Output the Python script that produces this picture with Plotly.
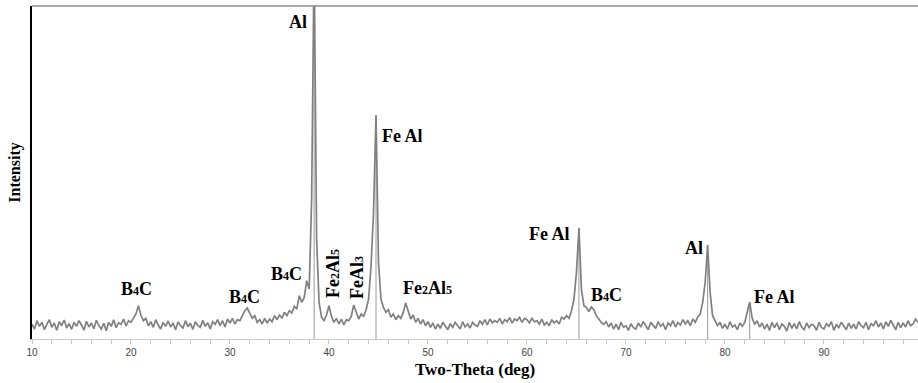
import numpy as np
import plotly.graph_objects as go

# ---- data: 2-theta grid (0.25 deg steps) and intensities
two_theta = np.round(np.arange(10.0, 99.5 + 0.001, 0.25), 2)
intensity = [
    45, 30, 55, 38,   50, 28, 44, 58,   35, 48, 26, 52,   40, 57, 33, 46,   # 10-13
    29, 50, 38, 55,   42, 27, 53, 36,   48, 31, 56, 40,   30, 47, 25, 50,   # 14-17
    38, 58, 34, 49,   44, 60, 39, 55,   50, 62, 75, 100,  72, 55, 62, 40,   # 18-21
    52, 35, 58, 42,   30, 50, 38, 54,   36, 48, 28, 51,   40, 33, 55, 37,   # 22-25
    47, 29, 52, 41,   35, 56, 38, 49,   30, 52, 44, 58,   40, 55, 36, 60,   # 26-29
    48, 62, 45, 58,   55, 70, 85, 93,   75, 62, 70, 50,   58, 45, 62, 48,   # 30-33
    60, 52, 70, 58,   72, 62, 80, 70,   85, 78, 98, 90,   130, 110, 125, 175,  # 34-37
    150, 420, 1150, 300,  110, 65, 55, 72,  100, 68, 50, 62,  45, 60, 42, 58,  # 38-41
    55, 68, 102, 78,  60, 75, 68, 88,  120, 220, 380, 672,  230, 120, 95, 80,  # 42-45
    88, 65, 75, 58,   70, 62, 80, 108,  85, 60, 72, 50,   62, 45, 58, 40,   # 46-49
    52, 35, 48, 30,   45, 32, 50, 38,   28, 46, 35, 50,   40, 30, 52, 36,   # 50-53
    45, 33, 50, 42,   38, 55, 44, 58,   42, 60, 48, 55,   50, 62, 45, 58,   # 54-57
    52, 64, 48, 60,   55, 65, 50, 62,   58, 48, 62, 52,   55, 45, 60, 42,   # 58-61
    50, 40, 58, 48,   55, 45, 65, 60,   70, 62, 85, 120,  200, 333, 150, 100,  # 62-65
    95, 82, 96, 88,   70, 58, 50, 44,   52, 36, 48, 30,   45, 28, 50, 35,   # 66-69
    40, 26, 46, 34,   30, 48, 36, 52,   38, 28, 50, 40,   32, 52, 38, 46,   # 70-73
    28, 48, 40, 55,   36, 50, 42, 58,   45, 55, 40, 60,   50, 66, 75, 110,  # 74-77
    170, 282, 140, 70,  55, 40, 50, 32,  45, 30, 52, 36,  42, 28, 48, 38,  # 78-81
    50, 80, 111, 62,  45, 55, 36, 48,   30, 45, 26, 50,   34, 48, 28, 45,   # 82-85
    38, 24, 50, 32,   46, 30, 52, 36,   28, 48, 34, 44,   40, 26, 50, 35,   # 86-89
    30, 46, 38, 52,   26, 44, 34, 50,   38, 28, 48, 32,   45, 30, 52, 40,   # 90-93
    34, 50, 28, 46,   40, 55, 36, 48,   30, 52, 38, 56,   42, 28, 50, 34,   # 94-97
    48, 36, 55, 40,   45, 60, 50,                                           # 98-99.5
]

# reference stick positions (deg) and their heights
stick_pos = [38.5, 44.75, 65.25, 78.25, 82.5]
stick_top = [1150, 672, 333, 282, 111]

# phase labels
S = "<span style='font-size:12px'>{}</span>"
label_text = ["Al", "Fe Al", "B" + S.format(4) + "C", "B" + S.format(4) + "C", "B" + S.format(4) + "C",
              "Fe" + S.format(2) + "Al" + S.format(5), "FeAl" + S.format(3),
              "Fe" + S.format(2) + "Al" + S.format(5),
              "Fe Al", "B" + S.format(4) + "C", "Al", "Fe Al"]
x_ticks = [10, 20, 30, 40, 50, 60, 70, 80, 90]

# label placement (layout only)
label_x = [36.87, 47.47, 20.6, 31.5, 35.75, 40.4, 42.83, 50.0, 62.3, 68.0, 76.87, 85.05]
label_y = [952, 610, 150, 126, 195, 198, 183, 153, 315, 132, 273, 126]
label_angle = [0, 0, 0, 0, 0, -90, -90, 0, 0, 0, 0, 0]

sx, sy = [], []
for p, t in zip(stick_pos, stick_top):
    sx += [p, p, None]
    sy += [0, t, None]

fig = go.Figure()
fig.add_trace(go.Scatter(x=sx, y=sy, mode="lines",
                         line=dict(color="#9a9a9a", width=1), hoverinfo="skip"))
fig.add_trace(go.Scatter(x=two_theta, y=intensity, mode="lines",
                         line=dict(color="#808080", width=1.7)))

for t, x, y, a in zip(label_text, label_x, label_y, label_angle):
    fig.add_annotation(x=x, y=y, text=t, textangle=a, showarrow=False,
                       font=dict(family="Liberation Serif", size=18, color="black", weight="bold"))

fig.add_shape(type="line", xref="paper", yref="paper", x0=0, x1=1, y0=1, y1=1,
              line=dict(color="#8a8a8a", width=1.5))

fig.update_layout(
    width=918, height=383,
    margin=dict(l=32, r=0, t=6, b=44),
    paper_bgcolor="white", plot_bgcolor="white",
    showlegend=False,
    xaxis=dict(range=[10, 99.5], tickvals=x_ticks, showgrid=False, zeroline=False,
               showline=True, linecolor="#c8c8c8", linewidth=1,
               ticks="outside", ticklen=4, tickcolor="#c8c8c8",
               minor=dict(dtick=2, ticks="outside", ticklen=4, tickcolor="#c8c8c8"),
               tickfont=dict(family="Liberation Sans", size=10, color="#444"),
               title=dict(text="Two-Theta (deg)", standoff=6,
                          font=dict(family="Liberation Serif", size=17, color="black", weight="bold"))),
    yaxis=dict(range=[0, 1000], showticklabels=False, showgrid=False, zeroline=False,
               showline=True, linecolor="black", linewidth=1.5, ticks="",
               title=dict(text="Intensity", standoff=6,
                          font=dict(family="Liberation Serif", size=16, color="black", weight="bold"))),
)

fig.write_html("out.html")
